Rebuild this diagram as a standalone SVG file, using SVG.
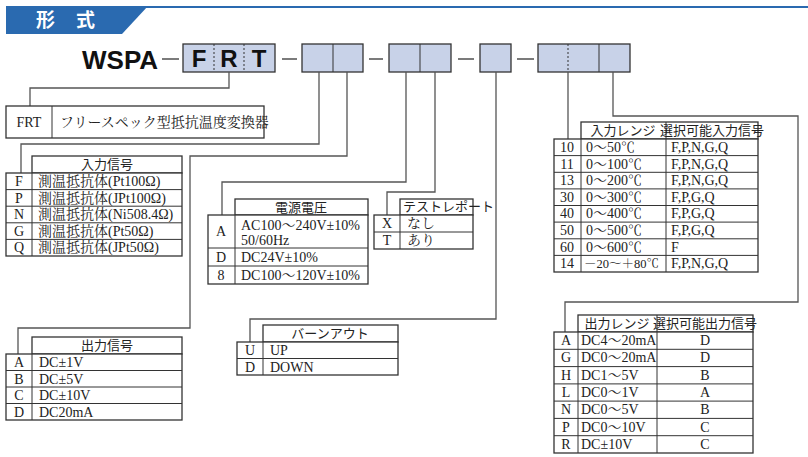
<svg xmlns="http://www.w3.org/2000/svg" width="808" height="457" viewBox="0 0 808 457">
<style>
.t{font-family:"Liberation Serif","Noto Serif CJK JP","Noto Sans CJK JP",serif;font-size:14px;fill:#222}
.h{font-family:"Noto Sans CJK JP",sans-serif;font-size:13px;fill:#222}
.c{text-anchor:middle}
.b{fill:#fff;stroke:#333;stroke-width:1.3}
.k{fill:#c8d2e8;stroke:#333;stroke-width:1.3}
.l{fill:none;stroke:#555;stroke-width:1.3}
.d{stroke:#333;stroke-width:1;stroke-dasharray:2,2}
</style>
<g id="title">
<line x1="140" y1="7" x2="808" y2="7" stroke="#2a6ab0" stroke-width="2"/>
<polygon points="6,6 148,6 122,34 6,34" fill="#2a6ab0"/>
<text x="36" y="27" font-family="Noto Sans CJK JP,sans-serif" font-weight="bold" font-size="19" fill="#fff">形</text>
<text x="76" y="27" font-family="Noto Sans CJK JP,sans-serif" font-weight="bold" font-size="19" fill="#fff">式</text>
</g>
<g id="model">
<text x="82" y="69" font-family="Liberation Sans,sans-serif" font-weight="bold" font-size="26" fill="#111">WSPA</text>
<g stroke="#333" stroke-width="1.3"><line x1="162" y1="59" x2="179" y2="59"/><line x1="282" y1="59" x2="297" y2="59"/><line x1="369" y1="59" x2="383" y2="59"/><line x1="458" y1="59" x2="474" y2="59"/><line x1="517" y1="59" x2="534" y2="59"/></g>
<rect class="k" x="183" y="44" width="92" height="28"/>
<line class="d" x1="214" y1="44" x2="214" y2="72"/><line class="d" x1="244" y1="44" x2="244" y2="72"/>
<g font-family="Liberation Sans,sans-serif" font-weight="bold" font-size="24" fill="#111" text-anchor="middle"><text x="199" y="67">F</text><text x="229" y="67">R</text><text x="259" y="67">T</text></g>
<rect class="k" x="302" y="44" width="61" height="28"/><line stroke="#333" x1="333" y1="44" x2="333" y2="72"/>
<rect class="k" x="389" y="44" width="62" height="28"/><line stroke="#333" x1="420" y1="44" x2="420" y2="72"/>
<rect class="k" x="480" y="44" width="31" height="28"/>
<rect class="k" x="538" y="44" width="92" height="28"/><line class="d" x1="568" y1="44" x2="568" y2="72"/><line stroke="#333" x1="599" y1="44" x2="599" y2="72"/>
</g>
<g id="connectors" class="l">
<polyline points="229,72 229,88 30,88 30,106"/>
<polyline points="319,72 319,144 21,144 21,173"/>
<polyline points="347,72 347,156 190,156 190,328 18,328 18,354"/>
<polyline points="406,72 406,182 222,182 222,215"/>
<polyline points="435,72 435,192 387,192 387,215"/>
<polyline points="496,72 496,319 250,319 250,342"/>
<polyline points="568,72 568,139"/>
<polyline points="613,72 613,116 798,116 798,302 565,302 565,332"/>
</g>
<g id="frt">
<rect class="b" x="6" y="106" width="258" height="32"/><line stroke="#333" x1="52" y1="106" x2="52" y2="138"/>
<text class="t c" x="29" y="127">FRT</text><text class="t" x="60" y="127">フリースペック型抵抗温度変換器</text>
</g>
<g id="input-signal">
<rect class="b" x="32" y="156" width="150" height="17"/><text class="h c" x="107" y="169">入力信号</text>
<rect class="b" x="6" y="173" width="176" height="83"/><line stroke="#333" x1="32" y1="173" x2="32" y2="256"/>
<g stroke="#333"><line x1="6" y1="189.6" x2="182" y2="189.6"/><line x1="6" y1="206.2" x2="182" y2="206.2"/><line x1="6" y1="222.8" x2="182" y2="222.8"/><line x1="6" y1="239.4" x2="182" y2="239.4"/></g>
<g class="t"><text class="c" x="19" y="186">F</text><text class="c" x="19" y="202.6">P</text><text class="c" x="19" y="219.2">N</text><text class="c" x="19" y="235.8">G</text><text class="c" x="19" y="252.4">Q</text>
<text x="38" y="186">測温抵抗体(Pt100Ω)</text><text x="38" y="202.6">測温抵抗体(JPt100Ω)</text><text x="38" y="219.2">測温抵抗体(Ni508.4Ω)</text><text x="38" y="235.8">測温抵抗体(Pt50Ω)</text><text x="38" y="252.4">測温抵抗体(JPt50Ω)</text></g>
</g>
<g id="output-signal">
<rect class="b" x="32" y="337" width="150" height="17"/><text class="h c" x="107" y="350">出力信号</text>
<rect class="b" x="6" y="354" width="176" height="66"/><line stroke="#333" x1="32" y1="354" x2="32" y2="420"/>
<g stroke="#333"><line x1="6" y1="370.5" x2="182" y2="370.5"/><line x1="6" y1="387" x2="182" y2="387"/><line x1="6" y1="403.5" x2="182" y2="403.5"/></g>
<g class="t"><text class="c" x="19" y="367">A</text><text class="c" x="19" y="383.5">B</text><text class="c" x="19" y="400">C</text><text class="c" x="19" y="416.5">D</text>
<text x="39" y="367">DC±1V</text><text x="39" y="383.5">DC±5V</text><text x="39" y="400">DC±10V</text><text x="39" y="416.5">DC20mA</text></g>
</g>
<g id="power">
<rect class="b" x="235" y="199" width="133" height="16"/><text class="h c" x="301" y="212">電源電圧</text>
<rect class="b" x="208" y="215" width="160" height="69"/><line stroke="#333" x1="235" y1="215" x2="235" y2="284"/>
<g stroke="#333"><line x1="208" y1="248" x2="368" y2="248"/><line x1="208" y1="266" x2="368" y2="266"/></g>
<g class="t"><text class="c" x="221" y="236">A</text><text class="c" x="221" y="262">D</text><text class="c" x="221" y="280">8</text>
<text x="241" y="230">AC100～240V±10%</text><text x="241" y="245">50/60Hz</text><text x="241" y="262">DC24V±10%</text><text x="241" y="280">DC100～120V±10%</text></g>
</g>
<g id="test-report">
<rect class="b" x="400" y="199" width="73" height="16"/><text class="h" x="403" y="211" font-size="9.5">テストレポート</text>
<rect class="b" x="374" y="215" width="99" height="34"/><line stroke="#333" x1="400" y1="215" x2="400" y2="249"/><line stroke="#333" x1="374" y1="232" x2="473" y2="232"/>
<g class="t"><text class="c" x="387" y="228">X</text><text class="c" x="387" y="245">T</text><text x="407" y="228">なし</text><text x="407" y="245">あり</text></g>
</g>
<g id="burnout">
<rect class="b" x="263" y="325" width="135" height="17"/><text class="h c" x="330" y="338">バーンアウト</text>
<rect class="b" x="237" y="342" width="161" height="33"/><line stroke="#333" x1="263" y1="342" x2="263" y2="375"/><line stroke="#333" x1="237" y1="358.5" x2="398" y2="358.5"/>
<g class="t"><text class="c" x="250" y="355">U</text><text class="c" x="250" y="371.5">D</text><text x="270" y="355">UP</text><text x="270" y="371.5">DOWN</text></g>
</g>
<g id="input-range">
<rect class="b" x="581" y="122" width="177" height="17"/><line stroke="#333" x1="666" y1="122" x2="666" y2="139"/>
<text class="h c" x="623" y="135">入力レンジ</text><text class="h c" x="712" y="135" font-size="11.5">選択可能入力信号</text>
<rect class="b" x="554" y="139" width="204" height="133"/><line stroke="#333" x1="581" y1="139" x2="581" y2="272"/><line stroke="#333" x1="666" y1="139" x2="666" y2="272"/>
<g stroke="#333"><line x1="554" y1="155.6" x2="758" y2="155.6"/><line x1="554" y1="172.3" x2="758" y2="172.3"/><line x1="554" y1="188.9" x2="758" y2="188.9"/><line x1="554" y1="205.5" x2="758" y2="205.5"/><line x1="554" y1="222.1" x2="758" y2="222.1"/><line x1="554" y1="238.8" x2="758" y2="238.8"/><line x1="554" y1="255.4" x2="758" y2="255.4"/></g>
<g class="t">
<text class="c" x="567" y="152">10</text><text x="586" y="152">0～50℃</text><text x="671" y="152">F,P,N,G,Q</text>
<text class="c" x="567" y="168.6">11</text><text x="586" y="168.6">0～100℃</text><text x="671" y="168.6">F,P,N,G,Q</text>
<text class="c" x="567" y="185.2">13</text><text x="586" y="185.2">0～200℃</text><text x="671" y="185.2">F,P,N,G,Q</text>
<text class="c" x="567" y="201.8">30</text><text x="586" y="201.8">0～300℃</text><text x="671" y="201.8">F,P,G,Q</text>
<text class="c" x="567" y="218.4">40</text><text x="586" y="218.4">0～400℃</text><text x="671" y="218.4">F,P,G,Q</text>
<text class="c" x="567" y="235">50</text><text x="586" y="235">0～500℃</text><text x="671" y="235">F,P,G,Q</text>
<text class="c" x="567" y="251.6">60</text><text x="586" y="251.6">0～600℃</text><text x="671" y="251.6">F</text>
<text class="c" x="567" y="268.2">14</text><text x="584" y="268.2" font-size="12.5">－20～＋80℃</text><text x="671" y="268.2">F,P,N,G,Q</text>
</g>
</g>
<g id="output-range">
<rect class="b" x="578" y="315" width="175" height="17"/><line stroke="#333" x1="657" y1="315" x2="657" y2="332"/>
<text class="h c" x="617" y="328" font-size="12.5">出力レンジ</text><text class="h c" x="705" y="328" font-size="11">選択可能出力信号</text>
<rect class="b" x="554" y="332" width="199" height="121"/><line stroke="#333" x1="578" y1="332" x2="578" y2="453"/><line stroke="#333" x1="657" y1="332" x2="657" y2="453"/>
<g stroke="#333"><line x1="554" y1="349.3" x2="753" y2="349.3"/><line x1="554" y1="366.6" x2="753" y2="366.6"/><line x1="554" y1="383.9" x2="753" y2="383.9"/><line x1="554" y1="401.1" x2="753" y2="401.1"/><line x1="554" y1="418.4" x2="753" y2="418.4"/><line x1="554" y1="435.7" x2="753" y2="435.7"/></g>
<g class="t">
<text class="c" x="566" y="345">A</text><text x="581" y="345">DC4～20mA</text><text class="c" x="705" y="345">D</text>
<text class="c" x="566" y="362.3">G</text><text x="581" y="362.3">DC0～20mA</text><text class="c" x="705" y="362.3">D</text>
<text class="c" x="566" y="379.6">H</text><text x="581" y="379.6">DC1～5V</text><text class="c" x="705" y="379.6">B</text>
<text class="c" x="566" y="396.9">L</text><text x="581" y="396.9">DC0～1V</text><text class="c" x="705" y="396.9">A</text>
<text class="c" x="566" y="414.2">N</text><text x="581" y="414.2">DC0～5V</text><text class="c" x="705" y="414.2">B</text>
<text class="c" x="566" y="431.5">P</text><text x="581" y="431.5">DC0～10V</text><text class="c" x="705" y="431.5">C</text>
<text class="c" x="566" y="448.8">R</text><text x="581" y="448.8">DC±10V</text><text class="c" x="705" y="448.8">C</text>
</g>
</g>
</svg>
